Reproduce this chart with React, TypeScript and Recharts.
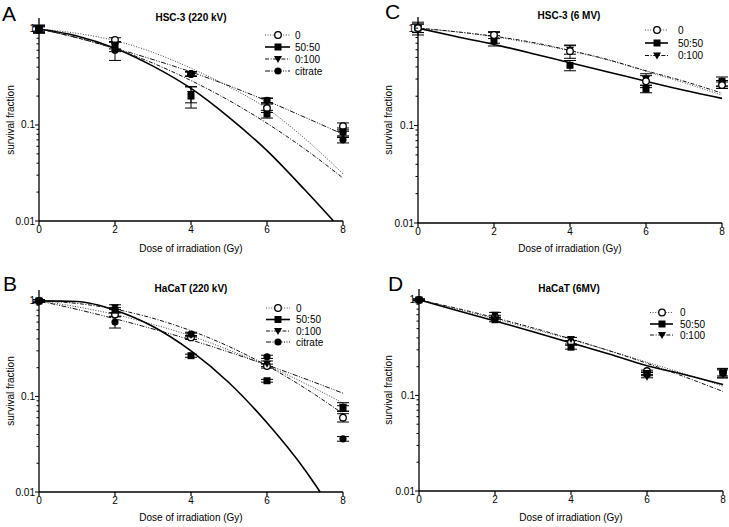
import React from 'react';
import { ComposedChart, Line, Scatter, XAxis, YAxis, ErrorBar } from 'recharts';

// ---------- shared axis values ----------
const fitDoses = [0, 1, 2, 3, 4, 5, 6, 7, 8];
const pointDoses = [0, 2, 4, 6, 8];
const xTicks = [0, 2, 4, 6, 8];
const yTicks = [0.01, 0.02, 0.03, 0.04, 0.05, 0.06, 0.07, 0.08, 0.09, 0.1, 0.2, 0.3, 0.4, 0.5, 0.6, 0.7, 0.8, 0.9, 1];
const yMajor = [0.01, 0.1, 1];
const yDomain = [0.01, 1.3];

// ---------- Panel A: HSC-3 (220 kV) ----------
const aFit0 = [1, 0.9, 0.755, 0.57, 0.39, 0.25, 0.148, 0.072, 0.031];
const aFit5050Doses = [0, 1, 2, 3, 4, 5, 6, 7, 7.75];
const aFit5050 = [1, 0.846, 0.63, 0.41, 0.24, 0.12, 0.054, 0.021, 0.01];
const aFit0100 = [1, 0.81, 0.62, 0.44, 0.29, 0.18, 0.104, 0.056, 0.028];
const aFitCitrate = [1, 0.81, 0.63, 0.48, 0.357, 0.256, 0.178, 0.12, 0.08];
const aPts0 = [1, 0.77, 0.34, 0.15, 0.097];
const aSd0 = [0.08, 0.04, 0.02, 0.015, 0.008];
const aPts5050 = [1, 0.68, 0.2, 0.13, 0.085];
const aSd5050 = [0.1, 0.06, 0.05, 0.012, 0.008];
const aPts0100 = [1, 0.66, 0.21, 0.18, 0.08];
const aSd0100 = [0.07, 0.08, 0.04, 0.01, 0.006];
const aPtsCitrate = [1, 0.6, 0.34, 0.18, 0.07];
const aSdCitrate = [0.05, 0.13, 0.015, 0.01, 0.005];

// ---------- Panel B: HaCaT (220 kV) ----------
const bFit0 = [1, 0.868, 0.72, 0.568, 0.43, 0.306, 0.21, 0.137, 0.085];
const bFit5050Doses = [0, 1, 2, 3, 4, 5, 6, 7, 7.4];
const bFit5050 = [1, 0.985, 0.8, 0.54, 0.3, 0.139, 0.053, 0.017, 0.01];
const bFit0100 = [1, 0.94, 0.82, 0.657, 0.487, 0.333, 0.21, 0.122, 0.066];
const bFitCitrate = [1, 0.815, 0.65, 0.508, 0.39, 0.291, 0.213, 0.153, 0.108];
const bPts0 = [1, 0.72, 0.415, 0.208, 0.06];
const bSd0 = [0.03, 0.03, 0.02, 0.01, 0.006];
const bPts5050 = [1, 0.8, 0.267, 0.146, 0.075];
const bSd5050 = [0.03, 0.05, 0.01, 0.005, 0.005];
const bPts0100 = [1, 0.86, 0.44, 0.22, 0.078];
const bSd0100 = [0.03, 0.05, 0.02, 0.015, 0.008];
const bPtsCitrate = [1, 0.6, 0.45, 0.26, 0.036];
const bSdCitrate = [0.03, 0.08, 0.02, 0.01, 0.002];

// ---------- Panel C: HSC-3 (6 MV) ----------
const cFit0 = [1, 0.915, 0.815, 0.7, 0.585, 0.47, 0.36, 0.275, 0.205];
const cFit5050 = [1, 0.82, 0.68, 0.55, 0.44, 0.355, 0.285, 0.23, 0.19];
const cFit0100 = [1, 0.918, 0.825, 0.715, 0.59, 0.475, 0.365, 0.285, 0.215];
const cPts0 = [1, 0.85, 0.58, 0.285, 0.26];
const cSd0 = [0.15, 0.07, 0.09, 0.04, 0.02];
const cPts5050 = [1, 0.745, 0.415, 0.237, 0.285];
const cSd5050 = [0.1, 0.09, 0.05, 0.02, 0.03];
const cPts0100 = [1, 0.8, 0.6, 0.3, 0.27];
const cSd0100 = [0.1, 0.1, 0.06, 0.04, 0.02];

// ---------- Panel D: HaCaT (6MV) ----------
const dFit0 = [1, 0.8, 0.633, 0.496, 0.385, 0.295, 0.223, 0.168, 0.125];
const dFit5050 = [1, 0.775, 0.6, 0.465, 0.355, 0.272, 0.205, 0.165, 0.13];
const dFit0100 = [1, 0.815, 0.65, 0.509, 0.39, 0.294, 0.217, 0.156, 0.11];
const dPts0 = [1, 0.66, 0.36, 0.18, 0.175];
const dSd0 = [0.02, 0.03, 0.015, 0.004, 0.015];
const dPts5050 = [1, 0.62, 0.32, 0.17, 0.172];
const dSd5050 = [0.02, 0.03, 0.015, 0.004, 0.02];
const dPts0100 = [1, 0.7, 0.39, 0.157, 0.17];
const dSd0100 = [0.02, 0.04, 0.015, 0.004, 0.015];

const FONT = '"Liberation Sans", Arial, Helvetica, sans-serif';

type Kind = '0' | '50:50' | '0:100' | 'citrate';

const lineStyles: Record<Kind, { dash?: string; width: number; color: string }> = {
  '0': { dash: '1 1.6', width: 1, color: '#444' },
  '50:50': { width: 1.6, color: '#000' },
  '0:100': { dash: '4 1.6 1 1.6', width: 1, color: '#111' },
  citrate: { dash: '5 1.5 1 1.5 1 1.5', width: 1, color: '#111' },
};

function markerEl(kind: Kind, cx: number, cy: number, key?: string) {
  switch (kind) {
    case '0':
      return <circle key={key} cx={cx} cy={cy} r={3.3} fill="#fff" stroke="#000" strokeWidth={1.3} />;
    case '50:50':
      return <rect key={key} x={cx - 3.5} y={cy - 3.5} width={7} height={7} fill="#000" />;
    case '0:100':
      return <path key={key} d={`M${cx - 4},${cy - 3} L${cx + 4},${cy - 3} L${cx},${cy + 4} Z`} fill="#000" />;
    default:
      return <circle key={key} cx={cx} cy={cy} r={3.6} fill="#000" />;
  }
}

type Series = {
  kind: Kind;
  fitX: number[];
  fitY: number[];
  pts: number[];
  sd: number[];
};

type PanelCfg = {
  x0: number;
  y0: number;
  plotL: number;
  plotT: number;
  plotR: number;
  plotB: number;
  series: Series[];
  pointOrder: Kind[];
};

const W = 364;
const H = 260;
const XAXIS_H = 20;

const YTick = (props: any) => {
  const { x, y, payload } = props;
  const v = payload.value;
  const major = yMajor.some((m) => Math.abs(m - v) < 1e-9);
  return (
    <g>
      <line x1={x - (major ? 4 : 2.5)} x2={x} y1={y} y2={y} stroke="#000" strokeWidth={1} />
      {major && (
        <text x={x - 4} y={y} dy="0.35em" textAnchor="end" fontSize={10} fontFamily={FONT} fill="#000">
          {String(v)}
        </text>
      )}
    </g>
  );
};

const XTick = (props: any) => {
  const { x, y, payload } = props;
  return (
    <g>
      <line x1={x} x2={x} y1={y} y2={y + 4} stroke="#000" strokeWidth={1.2} />
      <text x={x} y={y + 12} textAnchor="middle" fontSize={10} fontFamily={FONT} fill="#000">
        {String(payload.value)}
      </text>
    </g>
  );
};

function Panel({ cfg }: { cfg: PanelCfg }) {
  const margin = {
    top: cfg.plotT - cfg.y0,
    left: 0,
    right: cfg.x0 + W - cfg.plotR,
    bottom: cfg.y0 + H - cfg.plotB - XAXIS_H,
  };
  const byKind = (k: Kind) => cfg.series.find((s) => s.kind === k)!;
  return (
    <div style={{ position: 'absolute', left: cfg.x0, top: cfg.y0, width: W, height: H }}>
      <ComposedChart width={W} height={H} margin={margin}>
        <XAxis
          dataKey="x"
          type="number"
          domain={[0, 8]}
          ticks={xTicks}
          interval={0}
          height={XAXIS_H}
          tickSize={0}
          tickMargin={0}
          tickLine={false}
          tick={<XTick />}
          axisLine={{ stroke: '#000', strokeWidth: 1.3 }}
          allowDuplicatedCategory={false}
        />
        <YAxis
          type="number"
          scale="log"
          domain={yDomain}
          ticks={yTicks}
          interval={0}
          width={cfg.plotL - cfg.x0}
          tickSize={0}
          tickMargin={0}
          tickLine={false}
          tick={<YTick />}
          axisLine={{ stroke: '#000', strokeWidth: 1.3 }}
        />
        {cfg.series.map((s) => {
          const st = lineStyles[s.kind];
          return (
            <Line
              key={'fit-' + s.kind}
              data={s.fitX.map((x, i) => ({ x, y: s.fitY[i] }))}
              dataKey="y"
              type="monotone"
              stroke={st.color}
              strokeWidth={st.width}
              strokeDasharray={st.dash}
              dot={false}
              activeDot={false}
              isAnimationActive={false}
            />
          );
        })}
        {cfg.pointOrder.map((k) => {
          const s = byKind(k);
          return (
            <Scatter
              key={'pts-' + k}
              data={pointDoses.map((x, i) => ({ x, y: s.pts[i], sd: s.sd[i] }))}
              dataKey="y"
              isAnimationActive={false}
              shape={(p: any) => markerEl(k, p.cx, p.cy)}
            >
              <ErrorBar dataKey="sd" direction="y" width={6} stroke="#000" strokeWidth={1} />
            </Scatter>
          );
        })}
      </ComposedChart>
    </div>
  );
}

const panelA: PanelCfg = {
  x0: 0, y0: 0, plotL: 39, plotT: 18, plotR: 343, plotB: 221,
  series: [
    { kind: '0', fitX: fitDoses, fitY: aFit0, pts: aPts0, sd: aSd0 },
    { kind: '50:50', fitX: aFit5050Doses, fitY: aFit5050, pts: aPts5050, sd: aSd5050 },
    { kind: '0:100', fitX: fitDoses, fitY: aFit0100, pts: aPts0100, sd: aSd0100 },
    { kind: 'citrate', fitX: fitDoses, fitY: aFitCitrate, pts: aPtsCitrate, sd: aSdCitrate },
  ],
  pointOrder: ['0', '50:50', '0:100', 'citrate'],
};

const panelB: PanelCfg = {
  x0: 0, y0: 262, plotL: 39, plotT: 290, plotR: 343, plotB: 492,
  series: [
    { kind: '0', fitX: fitDoses, fitY: bFit0, pts: bPts0, sd: bSd0 },
    { kind: '50:50', fitX: bFit5050Doses, fitY: bFit5050, pts: bPts5050, sd: bSd5050 },
    { kind: '0:100', fitX: fitDoses, fitY: bFit0100, pts: bPts0100, sd: bSd0100 },
    { kind: 'citrate', fitX: fitDoses, fitY: bFitCitrate, pts: bPtsCitrate, sd: bSdCitrate },
  ],
  pointOrder: ['0', '50:50', '0:100', 'citrate'],
};

const panelC: PanelCfg = {
  x0: 364, y0: 0, plotL: 418, plotT: 17, plotR: 722, plotB: 223,
  series: [
    { kind: '0', fitX: fitDoses, fitY: cFit0, pts: cPts0, sd: cSd0 },
    { kind: '50:50', fitX: fitDoses, fitY: cFit5050, pts: cPts5050, sd: cSd5050 },
    { kind: '0:100', fitX: fitDoses, fitY: cFit0100, pts: cPts0100, sd: cSd0100 },
  ],
  pointOrder: ['0:100', '50:50', '0'],
};

const panelD: PanelCfg = {
  x0: 364, y0: 262, plotL: 419, plotT: 289, plotR: 723, plotB: 491,
  series: [
    { kind: '0', fitX: fitDoses, fitY: dFit0, pts: dPts0, sd: dSd0 },
    { kind: '50:50', fitX: fitDoses, fitY: dFit5050, pts: dPts5050, sd: dSd5050 },
    { kind: '0:100', fitX: fitDoses, fitY: dFit0100, pts: dPts0100, sd: dSd0100 },
  ],
  pointOrder: ['0', '0:100', '50:50'],
};

type LegendCfg = { x1: number; x2: number; mx: number; tx: number; ys: number[]; kinds: Kind[] };

const legends: LegendCfg[] = [
  { x1: 265, x2: 290, mx: 278, tx: 295, ys: [35, 47, 59, 71], kinds: ['0', '50:50', '0:100', 'citrate'] },
  { x1: 266, x2: 290, mx: 278, tx: 296, ys: [308, 319.5, 331, 342], kinds: ['0', '50:50', '0:100', 'citrate'] },
  { x1: 645, x2: 668, mx: 657, tx: 678, ys: [30, 43, 55.5], kinds: ['0', '50:50', '0:100'] },
  { x1: 650, x2: 673, mx: 662, tx: 680, ys: [312.5, 324, 335], kinds: ['0', '50:50', '0:100'] },
];

const letters = [
  { t: 'A', x: 2, y: 21 },
  { t: 'C', x: 385, y: 19 },
  { t: 'B', x: 3, y: 291 },
  { t: 'D', x: 388, y: 291 },
];

const titles = [
  { t: 'HSC-3 (220 kV)', x: 191, y: 20.5 },
  { t: 'HSC-3 (6 MV)', x: 569, y: 18.5 },
  { t: 'HaCaT (220 kV)', x: 191, y: 291.5 },
  { t: 'HaCaT (6MV)', x: 569, y: 291.5 },
];

const xLabels = [
  { x: 191, y: 251.5 },
  { x: 570, y: 251.5 },
  { x: 191, y: 521 },
  { x: 571, y: 521 },
];

const yLabels = [
  { x: 13.5, y: 120 },
  { x: 391.5, y: 120 },
  { x: 13.5, y: 391 },
  { x: 392, y: 390 },
];

function Overlay() {
  return (
    <svg
      width={729}
      height={527}
      style={{ position: 'absolute', left: 0, top: 0, pointerEvents: 'none' }}
      fontFamily={FONT}
    >
      {letters.map((l) => (
        <text key={l.t} x={l.x} y={l.y} fontSize={21} fill="#000">
          {l.t}
        </text>
      ))}
      {titles.map((t) => (
        <text key={t.t} x={t.x} y={t.y} fontSize={10} fontWeight="bold" textAnchor="middle" fill="#000">
          {t.t}
        </text>
      ))}
      {xLabels.map((l, i) => (
        <text key={'xl' + i} x={l.x} y={l.y} fontSize={10} textAnchor="middle" fill="#000">
          Dose of irradiation (Gy)
        </text>
      ))}
      {yLabels.map((l, i) => (
        <text
          key={'yl' + i}
          transform={`translate(${l.x},${l.y}) rotate(-90)`}
          fontSize={10}
          textAnchor="middle"
          fill="#000"
        >
          survival fraction
        </text>
      ))}
      {legends.map((lg, i) => (
        <g key={'lg' + i}>
          {lg.kinds.map((k, j) => {
            const st = lineStyles[k];
            const y = lg.ys[j];
            return (
              <g key={k}>
                <line
                  x1={lg.x1}
                  x2={lg.x2}
                  y1={y}
                  y2={y}
                  stroke={st.color}
                  strokeWidth={st.width}
                  strokeDasharray={st.dash}
                />
                {markerEl(k, lg.mx, y)}
                <text x={lg.tx} y={y + 3.6} fontSize={10} fill="#000">
                  {k}
                </text>
              </g>
            );
          })}
        </g>
      ))}
    </svg>
  );
}

export default function App() {
  return (
    <div style={{ position: 'absolute', left: 0, top: 0, width: 729, height: 527, background: '#fff' }}>
      <Panel cfg={panelA} />
      <Panel cfg={panelC} />
      <Panel cfg={panelB} />
      <Panel cfg={panelD} />
      <Overlay />
    </div>
  );
}
